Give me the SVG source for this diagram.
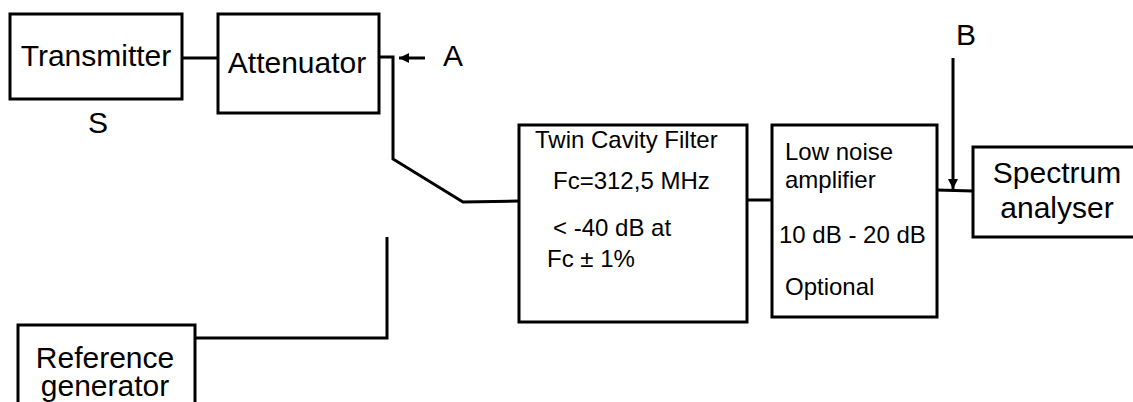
<svg xmlns="http://www.w3.org/2000/svg" width="1133" height="402" viewBox="0 0 1133 402">
<defs>
<style>
.box{fill:#fff;stroke:#000;stroke-width:3}
.ln{fill:none;stroke:#000;stroke-width:3}
.big{font-family:"Liberation Sans",Arial,sans-serif;font-size:30px;fill:#000}
.sm{font-family:"Liberation Sans",Arial,sans-serif;font-size:24px;fill:#000}
</style>
<marker id="ah" viewBox="0 0 10 10" refX="10" refY="5" markerWidth="10" markerHeight="10" markerUnits="userSpaceOnUse" orient="auto">
<path d="M0,0 L10,5 L0,10 Z" fill="#000"/>
</marker>
</defs>
<rect width="1133" height="402" fill="#fff"/>
<g id="connectors">
<line class="ln" x1="182" y1="58" x2="218" y2="58"/>
<polyline class="ln" points="379,57 393,57 393,159 463,202 519,201"/>
<line class="ln" x1="425" y1="58" x2="399" y2="58" marker-end="url(#ah)"/>
<line class="ln" x1="747" y1="200" x2="772" y2="200"/>
<line class="ln" x1="937" y1="190" x2="973" y2="191"/>
<line class="ln" x1="953" y1="58" x2="953" y2="189" marker-end="url(#ah)"/>
<polyline class="ln" points="195,338 387,338 387,237"/>
</g>
<g id="transmitter">
<rect class="box" x="10" y="14" width="172" height="85"/>
<text class="big" x="96" y="66" text-anchor="middle">Transmitter</text>
<text class="big" x="98" y="133" text-anchor="middle">S</text>
</g>
<g id="attenuator">
<rect class="box" x="218" y="14" width="161" height="99"/>
<text class="big" x="297" y="73" text-anchor="middle">Attenuator</text>
</g>
<g id="labelA">
<text class="big" x="443" y="66">A</text>
</g>
<g id="labelB">
<text class="big" x="956" y="45">B</text>
</g>
<g id="filter">
<rect class="box" x="519" y="125" width="228" height="197"/>
<text class="sm" x="535" y="148">Twin Cavity Filter</text>
<text class="sm" x="553" y="189">Fc=312,5 MHz</text>
<text class="sm" x="553" y="236">&lt; -40 dB at</text>
<text class="sm" x="547" y="267">Fc ± 1%</text>
</g>
<g id="lna">
<rect class="box" x="772" y="125" width="165" height="192"/>
<text class="sm" x="785" y="160">Low noise</text>
<text class="sm" x="785" y="188">amplifier</text>
<text class="sm" x="779" y="243">10 dB - 20 dB</text>
<text class="sm" x="785" y="295">Optional</text>
</g>
<g id="spectrum">
<rect class="box" x="973" y="147" width="162" height="90"/>
<text class="big" x="1057" y="183" text-anchor="middle">Spectrum</text>
<text class="big" x="1057" y="218" text-anchor="middle">analyser</text>
</g>
<g id="reference">
<rect class="box" x="18" y="325" width="177" height="90"/>
<text class="big" x="105" y="368" text-anchor="middle">Reference</text>
<text class="big" x="105" y="396" text-anchor="middle">generator</text>
</g>
</svg>
